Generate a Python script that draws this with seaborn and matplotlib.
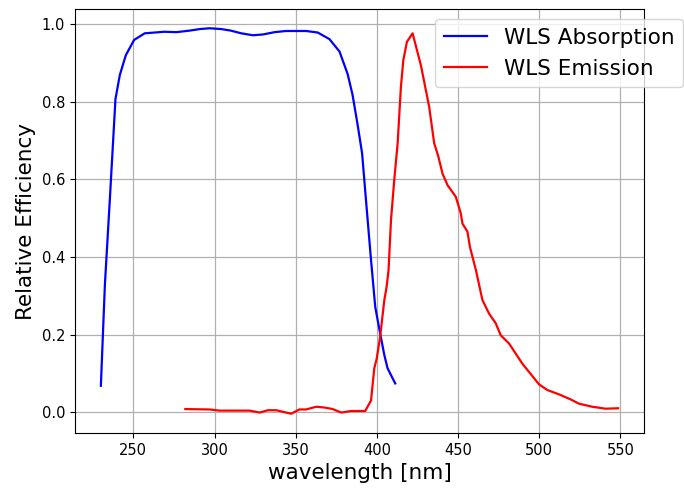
import matplotlib
matplotlib.use("Agg")
import matplotlib.pyplot as plt
import seaborn as sns
import pandas as pd

abs_wl = [230, 232.5, 235.5, 239, 241.7, 245.4, 250.5, 257, 269, 276.5, 284.7, 291,
          297, 304, 310, 316.5, 323.6, 329.8, 337, 344, 356.5, 363.6, 370.8, 377,
          382, 385, 388, 390.9, 393.3, 396.4, 399, 402, 404.6, 406.6, 411.3]
abs_eff = [0.068, 0.33, 0.546, 0.807, 0.869, 0.92, 0.959, 0.976, 0.98, 0.979, 0.983, 0.987,
           0.989, 0.987, 0.983, 0.976, 0.971, 0.973, 0.979, 0.982, 0.982, 0.978, 0.961, 0.929,
           0.871, 0.818, 0.744, 0.667, 0.546, 0.392, 0.271, 0.203, 0.147, 0.113, 0.074]

em_wl = [282, 297, 303, 321.6, 327.8, 332.9, 338, 347.2, 352.3, 356.4, 362.6, 367.7,
         372.8, 378, 384, 392.8, 396.4, 398.4, 399.9, 402, 404.6, 406, 407.2, 408.7,
         410.7, 412.8, 414.8, 416.3, 418.5, 422, 427.1, 432.2, 435.3, 437.9, 440.4,
         443.5, 448.6, 451.7, 452.7, 455.8, 457.3, 461, 465, 469.1, 473.2, 476.3,
         481.4, 489.6, 499.8, 505, 512.1, 519.3, 524.4, 532.6, 540.8, 548.6]
em_eff = [0.008, 0.007, 0.004, 0.004, -0.001, 0.005, 0.005, -0.004, 0.007, 0.007, 0.014, 0.012,
          0.008, -0.001, 0.003, 0.003, 0.030, 0.113, 0.138, 0.194, 0.289, 0.323, 0.366, 0.495,
          0.598, 0.693, 0.838, 0.907, 0.954, 0.976, 0.894, 0.787, 0.693, 0.658, 0.615,
          0.585, 0.555, 0.512, 0.486, 0.465, 0.426, 0.366, 0.289, 0.254, 0.229, 0.198,
          0.177, 0.125, 0.072, 0.057, 0.046, 0.033, 0.022, 0.014, 0.009, 0.010]

df_abs = pd.DataFrame({"wl": abs_wl, "eff": abs_eff})
df_em = pd.DataFrame({"wl": em_wl, "eff": em_eff})

fig = plt.figure(figsize=(6.84, 4.9), dpi=100)
ax = fig.add_axes([75/684, 1 - 433/490, (644-75)/684, (433-9)/490])

sns.lineplot(data=df_abs, x="wl", y="eff", ax=ax, color="blue", linewidth=1.6,
             label="WLS Absorption", sort=False)
sns.lineplot(data=df_em, x="wl", y="eff", ax=ax, color="red", linewidth=1.6,
             label="WLS Emission", sort=False)

ax.set_xticks([250, 300, 350, 400, 450, 500, 550])
ax.set_yticks([0.0, 0.2, 0.4, 0.6, 0.8, 1.0])
ax.tick_params(labelsize=10.5)
ax.grid(True, color="#b0b0b0", linewidth=0.9)
ax.set_axisbelow(True)
ax.set_xlabel("wavelength [nm]", fontsize=15.5)
ax.set_ylabel("Relative Efficiency", fontsize=15.5)
ax.legend(loc="upper right", bbox_to_anchor=(1.069, 0.976), borderaxespad=0,
          fontsize=15.5, framealpha=0.8)

fig.savefig("out.png", dpi=100)
